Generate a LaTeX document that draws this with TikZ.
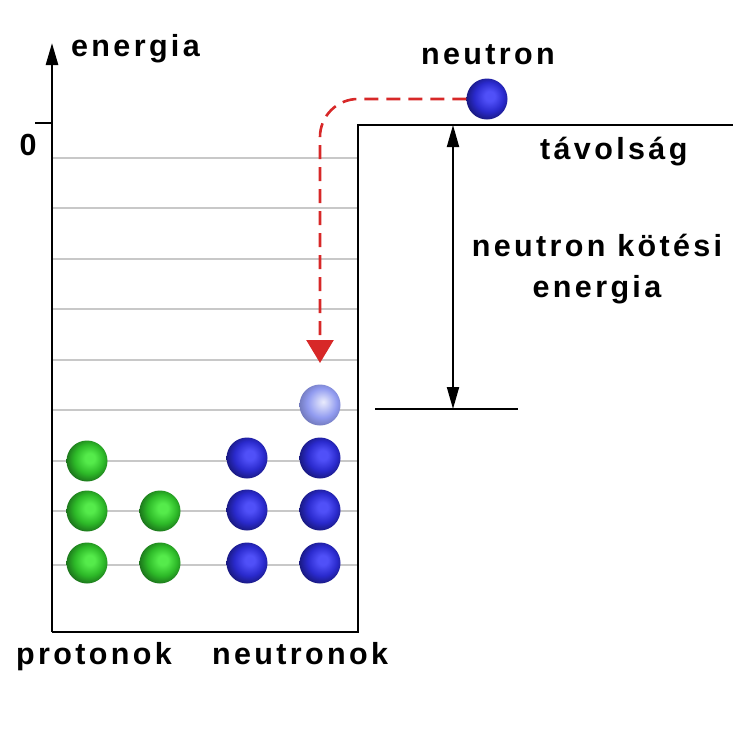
\documentclass[tikz,border=0pt]{standalone}
\usepackage{fontspec}
\usetikzlibrary{arrows.meta}
\newfontfamily\lblfont{Liberation Sans}[LetterSpace=11]

% particle colours
\definecolor{pgreen}{RGB}{45,185,40}
\definecolor{pgreenhi}{RGB}{85,235,75}
\definecolor{pgreenlo}{RGB}{25,105,25}
\definecolor{nblue}{RGB}{42,42,205}
\definecolor{nbluehi}{RGB}{80,80,248}
\definecolor{nbluelo}{RGB}{22,22,115}
\definecolor{nlight}{RGB}{145,155,240}
\definecolor{dropred}{RGB}{215,40,40}
\definecolor{levelgray}{RGB}{200,200,200}

\pgfdeclareradialshading{protonball}{\pgfpoint{4bp}{4bp}}{%
  color(0bp)=(pgreenhi); color(6bp)=(pgreenhi);
  color(18bp)=(pgreen); color(29bp)=(pgreenlo); color(50bp)=(pgreenlo)}
\pgfdeclareradialshading{neutronball}{\pgfpoint{4bp}{4bp}}{%
  color(0bp)=(nbluehi); color(6bp)=(nbluehi);
  color(18bp)=(nblue); color(29bp)=(nbluelo); color(50bp)=(nbluelo)}
\pgfdeclareradialshading{emptyball}{\pgfpoint{4bp}{4bp}}{%
  color(0bp)=(nlight!20!white); color(6bp)=(nlight!45!white);
  color(18bp)=(nlight); color(29bp)=(nlight!75!black); color(50bp)=(nlight!75!black)}

\tikzset{
  lab/.style={font=\lblfont\bfseries\fontsize{30.5}{33}\selectfont, inner sep=0pt},
  wall/.style={line width=2.6pt, black},
  level/.style={line width=1.5pt, levelgray},
  particle/.style={circle, minimum size=41pt, inner sep=0pt},
  proton/.style={particle, shading=protonball},
  neutron/.style={particle, shading=neutronball},
  hole/.style={particle, shading=emptyball},
  capture/.style={line width=2.6pt, dropred, dash pattern=on 14pt off 8pt,
    rounded corners=38pt, -{Triangle[width=27pt,length=23pt]}},
  measure/.style={line width=2pt, black, {Triangle[width=12pt,length=22pt]}-{Triangle[width=12pt,length=22pt]}}
}

\begin{document}
\begin{tikzpicture}[x=1pt,y=-1pt]
\useasboundingbox (0,0) rectangle (733,742);

% energy levels inside the well
\foreach \yy in {158,208,259,309,360,410,461,511,565}
  \draw[level] (52,\yy) -- (358,\yy);

% potential well and energy axis
\coordinate (wellbl) at (52,632);
\coordinate (axtop) at (52,43);
\coordinate (wellbr) at (358,632);
\coordinate (welltr) at (358,125);
\coordinate (outer) at (733,125);
\draw[wall, -{Triangle[width=12pt,length=22pt]}] (wellbl) -- (axtop);
\draw[wall] (wellbl) -- (wellbr) -- (welltr) -- (outer);
\coordinate (tickl) at (35,123);
\coordinate (tickr) at (52,123);
\draw[wall] (tickl) -- (tickr);

% protons
\node[proton] (p1) at (87,461) {};
\node[proton] (p2) at (87,511) {};
\node[proton] (p3) at (87,563) {};
\node[proton] (p4) at (160,511) {};
\node[proton] (p5) at (160,563) {};

% bound neutrons
\node[neutron] (n1) at (247,458) {};
\node[neutron] (n2) at (247,510) {};
\node[neutron] (n3) at (247,563) {};
\node[neutron] (n4) at (320,458) {};
\node[neutron] (n5) at (320,510) {};
\node[neutron] (n6) at (320,563) {};
\node[hole] (slot) at (320,405) {};

% incoming neutron and its capture path
\node[neutron] (nfree) at (487,99) {};
\coordinate (drop) at (320,363);
\draw[capture] (nfree.west) -| (drop);

% binding energy
\coordinate (bindtop) at (453,125);
\coordinate (bindbot) at (453,409);
\coordinate (levl) at (375,409);
\coordinate (levr) at (518,409);
\draw[wall, line width=2pt] (levl) -- (levr);
\draw[measure] (bindtop) -- (bindbot);

% labels
\node[lab, anchor=base west] (tenergy) at (71,56.5) {energia};
\node[lab, anchor=base] (tzero) at (28,155) {0};
\node[lab, anchor=base] (tneutron) at (488,64) {neutron};
\node[lab, anchor=base west] (tdist) at (540,159) {távolság};
\node[lab, anchor=base] (tbind1) at (597,256.5) {neutron kötési};
\node[lab, anchor=base] (tbind2) at (597,297) {energia};
\node[lab, anchor=base west] (tprot) at (16,664) {protonok};
\node[lab, anchor=base west] (tneut) at (212,664) {neutronok};
\end{tikzpicture}
\end{document}
